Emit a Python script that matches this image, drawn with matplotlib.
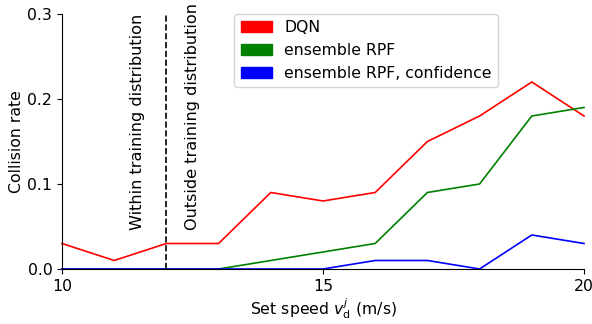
import numpy as np
import matplotlib.pyplot as plt
from matplotlib.patches import Patch

speed = [10, 11, 12, 13, 14, 15, 16, 17, 18, 19, 20]
dqn = [0.03, 0.01, 0.03, 0.03, 0.09, 0.08, 0.09, 0.15, 0.18, 0.22, 0.18]
rpf = [0.0, 0.0, 0.0, 0.0, 0.01, 0.02, 0.03, 0.09, 0.10, 0.18, 0.19]
rpf_conf = [0.0, 0.0, 0.0, 0.0, 0.0, 0.0, 0.01, 0.01, 0.0, 0.04, 0.03]
labels = ['DQN', 'ensemble RPF', 'ensemble RPF, confidence']
colors = ['red', 'green', 'blue']

plt.rcParams['font.size'] = 11.3

fig = plt.figure(figsize=(5.92, 3.24), dpi=100)
ax = fig.add_axes([0.1047, 0.1698, 0.8818, 0.787])

for y, c in zip([dqn, rpf, rpf_conf], colors):
    ax.plot(speed, y, color=c, linewidth=1.2, clip_on=False)

ax.axvline(12, color='black', linestyle='--', linewidth=1.2)
ax.text(11.45, 0.046, 'Within training distribution', rotation=90,
        ha='center', va='bottom', fontsize=11.6)
ax.text(12.5, 0.046, 'Outside training distribution', rotation=90,
        ha='center', va='bottom', fontsize=11.6)

ax.set_xlim(10, 20)
ax.set_ylim(0, 0.3)
ax.set_xticks([10, 15, 20])
ax.set_yticks([0.0, 0.1, 0.2, 0.3])
ax.spines['top'].set_visible(False)
ax.spines['right'].set_visible(False)
ax.set_xlabel(r'Set speed $v_\mathrm{d}^j$ (m/s)', labelpad=2)
ax.set_ylabel('Collision rate', labelpad=2)

handles = [Patch(color=c) for c in colors]
ax.legend(handles, labels, loc='upper left', bbox_to_anchor=(0.33, 1.0),
          borderaxespad=0)

fig.savefig('out.png', dpi=100)
